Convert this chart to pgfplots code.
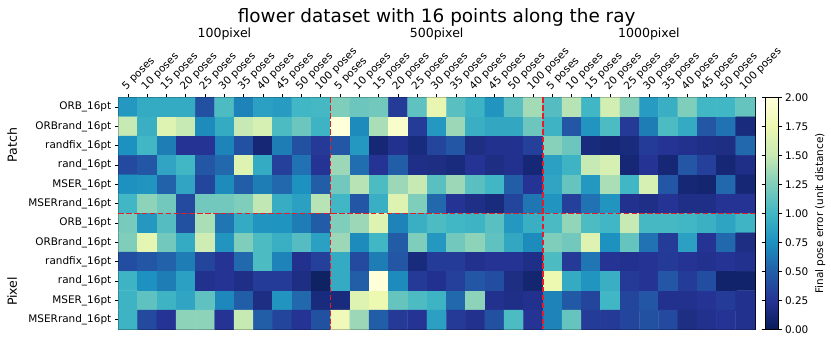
\documentclass[border=0pt]{standalone}
\usepackage{fontspec}
\setmainfont{DejaVu Sans}
\usepackage{pgfplots}
\pgfplotsset{compat=1.18}

\definecolor{sepred}{RGB}{228,30,40}
\newcommand{\tickfont}{\fontsize{10.5}{12}\selectfont}

\pgfplotsset{
  colormap={ylgnbur}{rgb255=(8,29,88) rgb255=(37,52,148) rgb255=(34,94,168)
    rgb255=(29,145,192) rgb255=(65,182,196) rgb255=(127,205,187)
    rgb255=(199,233,180) rgb255=(237,248,177) rgb255=(255,255,217)},
  sepline/.style={sepred, line width=1.7bp, dash pattern=on 5.5bp off 2.4bp, forget plot},
}

\begin{document}
\begin{tikzpicture}
\begin{axis}[
  name=main,
  scale only axis,
  width=637bp, height=232bp,
  xmin=-0.5, xmax=32.5, ymin=-0.5, ymax=11.5,
  y dir=reverse,
  enlargelimits=false,
  clip=false,
  axis line style={line width=0.8bp},
  tick style={line width=0.8bp, black},
  major tick length=3.5bp,
  tick align=outside,
  xtick pos=upper, xticklabel pos=upper,
  ytick pos=left,
  xtick={0,...,32},
  xticklabels={5 poses,10 poses,15 poses,20 poses,25 poses,30 poses,35 poses,40 poses,45 poses,50 poses,100 poses,
               5 poses,10 poses,15 poses,20 poses,25 poses,30 poses,35 poses,40 poses,45 poses,50 poses,100 poses,
               5 poses,10 poses,15 poses,20 poses,25 poses,30 poses,35 poses,40 poses,45 poses,50 poses,100 poses},
  xticklabel style={font=\tickfont, rotate=45, anchor=south west, inner sep=1.5bp},
  ytick={0,...,11},
  yticklabels={ORB\_16pt,ORBrand\_16pt,randfix\_16pt,rand\_16pt,MSER\_16pt,MSERrand\_16pt,
               ORB\_16pt,ORBrand\_16pt,randfix\_16pt,rand\_16pt,MSER\_16pt,MSERrand\_16pt},
  yticklabel style={font=\tickfont},
  colormap name=ylgnbur,
  point meta min=0, point meta max=2,
  colorbar right,
  colorbar style={
    width=13bp,
    at={(1.0157,1)}, anchor=north west,
    ytick={0,0.25,...,2},
    major tick length=3.5bp,
    tick align=outside,
    axis line style={line width=0.8bp},
    tick style={line width=0.8bp, black},
    yticklabel style={font=\tickfont, /pgf/number format/.cd, fixed, fixed zerofill, precision=2, assume math mode=true},
    ylabel={Final pose error (unit distance)},
    ylabel style={font=\tickfont},
  },
]
% one line per heatmap row: 11 values for 100pixel, 500pixel, 1000pixel
\addplot[matrix plot*, mesh/cols=33, point meta=explicit]
  table[row sep=\\, header=false, x expr={mod(\coordindex,33)}, y expr={floor((\coordindex+0.5)/33)}, meta index=0] {
0.80\\ 0.92\\ 0.92\\ 0.92\\ 0.42\\ 1.05\\ 0.68\\ 0.85\\ 0.82\\ 1.00\\ 1.02\\ 1.25\\ 1.18\\ 1.20\\ 0.30\\ 1.12\\ 1.72\\ 1.10\\ 0.98\\ 0.78\\ 1.10\\ 1.38\\ 1.08\\ 1.45\\ 1.00\\ 1.58\\ 1.28\\ 0.82\\ 0.95\\ 1.25\\ 1.00\\ 1.00\\ 1.15\\
1.50\\ 0.95\\ 1.65\\ 1.50\\ 0.72\\ 0.92\\ 1.50\\ 1.60\\ 1.05\\ 1.18\\ 0.98\\ 2.00\\ 0.72\\ 1.40\\ 1.92\\ 0.30\\ 0.80\\ 1.35\\ 0.95\\ 0.90\\ 0.90\\ 1.18\\ 0.98\\ 0.45\\ 0.78\\ 1.05\\ 0.28\\ 0.65\\ 1.05\\ 0.92\\ 0.45\\ 0.60\\ 0.15\\
0.75\\ 1.00\\ 0.65\\ 0.25\\ 0.25\\ 0.68\\ 0.42\\ 0.12\\ 0.65\\ 0.42\\ 0.28\\ 0.45\\ 0.80\\ 0.12\\ 0.22\\ 0.15\\ 0.35\\ 0.45\\ 0.18\\ 0.22\\ 0.22\\ 0.32\\ 1.28\\ 1.18\\ 0.15\\ 0.12\\ 0.15\\ 0.30\\ 0.25\\ 0.22\\ 0.20\\ 0.18\\ 0.55\\
0.38\\ 0.45\\ 0.88\\ 1.00\\ 0.45\\ 0.55\\ 1.65\\ 0.92\\ 0.32\\ 0.60\\ 0.25\\ 1.35\\ 0.58\\ 0.25\\ 0.50\\ 0.20\\ 0.18\\ 0.15\\ 0.25\\ 0.18\\ 0.22\\ 0.12\\ 0.85\\ 0.98\\ 1.50\\ 1.60\\ 0.12\\ 0.25\\ 0.12\\ 0.45\\ 0.32\\ 0.12\\ 0.20\\
0.75\\ 0.78\\ 0.52\\ 0.88\\ 0.35\\ 0.72\\ 0.50\\ 0.65\\ 0.55\\ 0.75\\ 0.50\\ 1.20\\ 1.45\\ 1.05\\ 1.35\\ 1.50\\ 1.10\\ 1.35\\ 1.10\\ 1.00\\ 0.50\\ 0.25\\ 0.88\\ 1.15\\ 0.80\\ 1.40\\ 1.00\\ 1.60\\ 0.45\\ 0.12\\ 0.10\\ 0.55\\ 0.12\\
1.00\\ 1.30\\ 1.20\\ 0.38\\ 1.20\\ 1.20\\ 1.25\\ 1.48\\ 0.93\\ 0.85\\ 1.45\\ 1.00\\ 0.45\\ 0.95\\ 1.65\\ 1.25\\ 0.55\\ 0.25\\ 0.20\\ 0.15\\ 0.35\\ 0.62\\ 0.78\\ 0.32\\ 0.60\\ 0.78\\ 0.22\\ 0.20\\ 0.25\\ 0.20\\ 0.20\\ 0.25\\ 0.25\\
1.22\\ 0.80\\ 1.08\\ 0.42\\ 1.40\\ 0.62\\ 0.92\\ 0.78\\ 0.77\\ 0.65\\ 0.48\\ 1.25\\ 1.35\\ 1.65\\ 0.68\\ 0.95\\ 1.05\\ 1.00\\ 0.98\\ 1.10\\ 0.80\\ 0.95\\ 1.04\\ 1.32\\ 1.05\\ 1.00\\ 1.50\\ 1.02\\ 1.02\\ 1.00\\ 0.96\\ 0.87\\ 0.99\\
1.25\\ 1.70\\ 1.20\\ 0.92\\ 1.55\\ 0.78\\ 1.25\\ 1.05\\ 0.95\\ 1.08\\ 0.85\\ 1.35\\ 0.72\\ 1.00\\ 0.48\\ 1.25\\ 0.80\\ 1.20\\ 1.30\\ 1.12\\ 0.90\\ 0.72\\ 1.25\\ 1.20\\ 1.65\\ 0.75\\ 1.15\\ 0.60\\ 0.30\\ 0.85\\ 0.25\\ 0.55\\ 0.18\\
0.40\\ 0.45\\ 0.52\\ 0.65\\ 0.35\\ 0.25\\ 0.55\\ 1.05\\ 0.68\\ 0.22\\ 0.32\\ 0.92\\ 0.38\\ 0.65\\ 0.45\\ 0.15\\ 0.30\\ 0.30\\ 0.22\\ 0.25\\ 0.25\\ 0.20\\ 1.05\\ 0.28\\ 0.62\\ 0.25\\ 0.22\\ 0.25\\ 0.28\\ 0.25\\ 0.22\\ 0.25\\ 0.22\\
0.98\\ 0.75\\ 0.65\\ 0.85\\ 0.22\\ 0.25\\ 0.20\\ 0.30\\ 0.30\\ 0.18\\ 0.05\\ 0.92\\ 0.50\\ 2.00\\ 0.72\\ 0.28\\ 0.22\\ 0.32\\ 0.45\\ 0.40\\ 0.18\\ 0.10\\ 1.75\\ 0.92\\ 0.78\\ 0.95\\ 0.28\\ 0.25\\ 0.45\\ 0.30\\ 0.40\\ 0.08\\ 0.08\\
0.98\\ 1.12\\ 0.98\\ 0.88\\ 1.12\\ 0.70\\ 0.50\\ 0.18\\ 0.78\\ 0.55\\ 0.15\\ 0.15\\ 1.65\\ 1.75\\ 1.15\\ 1.05\\ 0.98\\ 0.55\\ 1.30\\ 0.22\\ 0.20\\ 0.22\\ 0.68\\ 0.47\\ 0.35\\ 1.00\\ 0.35\\ 0.45\\ 0.22\\ 0.22\\ 0.25\\ 0.30\\ 0.22\\
0.98\\ 0.38\\ 0.25\\ 1.30\\ 1.30\\ 0.25\\ 1.50\\ 0.50\\ 0.35\\ 0.25\\ 0.42\\ 1.80\\ 1.35\\ 0.50\\ 0.28\\ 0.25\\ 0.85\\ 0.28\\ 0.22\\ 0.42\\ 1.05\\ 0.25\\ 0.68\\ 1.15\\ 0.30\\ 0.28\\ 0.35\\ 0.42\\ 0.38\\ 0.18\\ 0.22\\ 0.25\\ 0.22\\
};
% dashed separators between the groups
\addplot[sepline] coordinates {(-0.5,5.5) (32.5,5.5)};
\addplot[sepline] coordinates {(10.5,-0.5) (10.5,11.5)};
\addplot[sepline] coordinates {(21.5,-0.5) (21.5,11.5)};
% group labels
\node[anchor=base, font=\fontsize{12.6}{14}\selectfont] at ([yshift=59.5bp]axis cs:5,-0.5) {100pixel};
\node[anchor=base, font=\fontsize{12.6}{14}\selectfont] at ([yshift=59.5bp]axis cs:16,-0.5) {500pixel};
\node[anchor=base, font=\fontsize{12.6}{14}\selectfont] at ([yshift=59.5bp]axis cs:27,-0.5) {1000pixel};
\end{axis}
\node[anchor=base, font=\fontsize{18.5}{22}\selectfont] at ([yshift=75bp]main.north) {flower dataset with 16 points along the ray};
\node[rotate=90, font=\fontsize{12.6}{14}\selectfont] at ([xshift=-106bp,yshift=-47.5bp]main.north west) {Patch};
\node[rotate=90, font=\fontsize{12.6}{14}\selectfont] at ([xshift=-106bp,yshift=-194bp]main.north west) {Pixel};
\pgfresetboundingbox
\path[use as bounding box] ([xshift=-118.3bp,yshift=-14.5bp]main.south west) rectangle ([xshift=76bp,yshift=97.5bp]main.north east);
\end{tikzpicture}
\end{document}
